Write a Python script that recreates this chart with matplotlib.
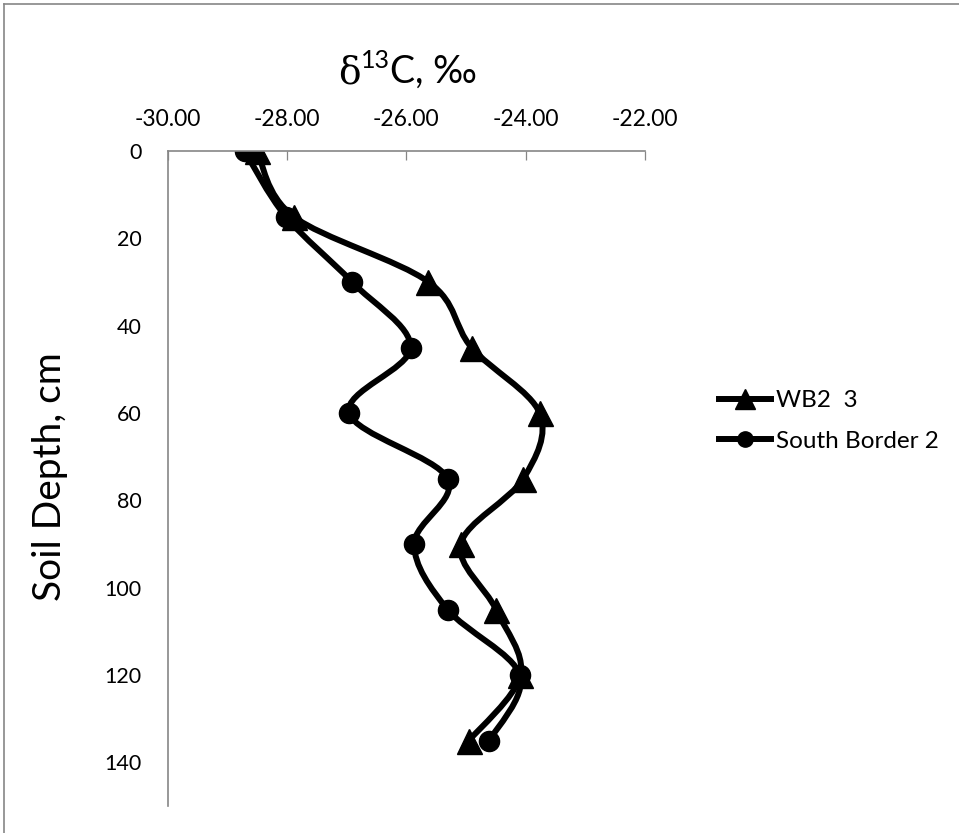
import numpy as np
import matplotlib
matplotlib.use("Agg")
import matplotlib.pyplot as plt
from matplotlib.path import Path
from matplotlib.patches import PathPatch
from matplotlib.lines import Line2D
from matplotlib.ticker import FuncFormatter

plt.rcParams["font.family"] = ["Lato", "DejaVu Sans"]

# data
depth = [0, 15, 30, 45, 60, 75, 90, 105, 120, 135]
wb2_3 = [-28.50, -27.89, -25.63, -24.91, -23.77, -24.04, -25.09, -24.50, -24.09, -24.95]
south_border_2 = [-28.71, -28.02, -26.91, -25.93, -26.96, -25.31, -25.87, -25.31, -24.10, -24.61]
series_names = ["WB2  3", "South Border 2"]
x_ticks = [-30, -28, -26, -24, -22]
y_ticks = [0, 20, 40, 60, 80, 100, 120, 140]

W, H = 959, 833
GRAY = "#868686"


def smooth_path(xs, ys):
    # excel-like smoothed line: bezier segments with catmull-rom tangents
    pts = np.column_stack([xs, ys]).astype(float)
    n = len(pts)
    verts = [pts[0]]
    codes = [Path.MOVETO]
    for i in range(n - 1):
        p0 = pts[max(i - 1, 0)]
        p1 = pts[i]
        p2 = pts[i + 1]
        p3 = pts[min(i + 2, n - 1)]
        verts += [p1 + (p2 - p0) / 6, p2 - (p3 - p1) / 6, p2]
        codes += [Path.CURVE4] * 3
    return Path(verts, codes)


fig = plt.figure(figsize=(W / 100, H / 100), dpi=100)
left, right, top, bottom = 167.5, 645.3, 151.0, 806.0
ax = fig.add_axes([left / W, 1 - bottom / H, (right - left) / W, (bottom - top) / H])

for xs, mk, ms in [(wb2_3, "^", 18), (south_border_2, "o", 14.5)]:
    ax.add_patch(PathPatch(smooth_path(xs, depth), fill=False, lw=4.3,
                           ec="black", capstyle="round", joinstyle="round"))
    ax.plot(xs, depth, ls="none", marker=mk, ms=ms, color="black")

ax.set_xlim(-30, -22)
ax.set_ylim(150, 0)
ax.xaxis.tick_top()
ax.set_xticks(x_ticks)
ax.xaxis.set_major_formatter(FuncFormatter(lambda v, p: f"{v:.2f}"))
ax.set_yticks(y_ticks)
ax.tick_params(axis="x", direction="in", length=6.5, width=0.9, color=GRAY,
               pad=15, labelsize=16.5)
ax.tick_params(axis="y", length=0, pad=18.5, labelsize=15.5)
for s in ["right", "bottom"]:
    ax.spines[s].set_visible(False)
for s in ["top", "left"]:
    ax.spines[s].set_color(GRAY)
    ax.spines[s].set_linewidth(1.2)

fig.text(50 / W, 1 - 477 / H, "Soil Depth, cm", rotation=90, ha="center",
         va="center", fontsize=28)

# title with superscript, built from pieces
base_y = 1 - 83 / H
t1 = fig.text(338 / W, base_y, "δ", fontsize=27, family=["DejaVu Serif"],
              va="baseline")
fig.canvas.draw()
r = fig.canvas.get_renderer()
x1 = t1.get_window_extent(r).x1
t2 = fig.text(x1 / W, 1 - 68 / H, "13", fontsize=18, va="baseline")
fig.canvas.draw()
x2 = t2.get_window_extent(r).x1
fig.text(x2 / W, base_y, "C, ‰", fontsize=27, va="baseline")

handles = [
    Line2D([], [], color="black", lw=4.3, marker="^", ms=15),
    Line2D([], [], color="black", lw=4.3, marker="o", ms=11),
]
fig.legend(handles, series_names, loc="center left",
           bbox_to_anchor=(719 / W, 1 - 421 / H), frameon=False,
           borderpad=0, borderaxespad=0, handlelength=2.15,
           handletextpad=0.2, labelspacing=0.8, fontsize=17.5)

# chart border
fig.add_artist(Line2D([4 / W, 4 / W], [0, 1 - 4 / H], color=GRAY, lw=1.2,
                      transform=fig.transFigure))
fig.add_artist(Line2D([4 / W, 1], [1 - 4 / H, 1 - 4 / H], color=GRAY, lw=1.2,
                      transform=fig.transFigure))

fig.savefig("out.png", dpi=100)
